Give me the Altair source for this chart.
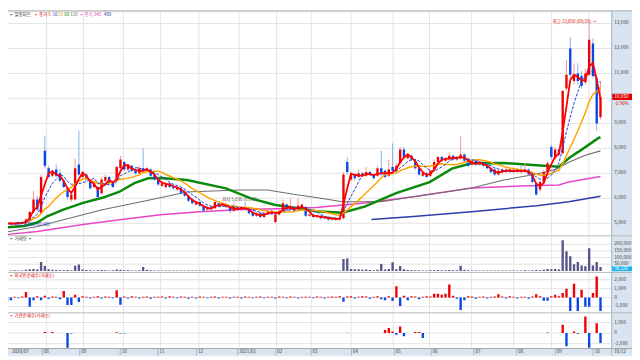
import altair as alt
import pandas as pd

FONT = "Noto Sans CJK KR"
W = 632          # whole chart width (page is 640 with 8px margin)
PW = 611         # price/indicator plot width, right of it is the axis strip
H_MAIN, H_VOL, H_P2, H_P3, H_X = 228, 37, 41, 36, 9

# ---------------- daily candles ----------------
OPEN = [5050, 4980, 5020, 4960, 5050, 5000, 5150, 5450, 5950, 5400,
        7900, 7200, 6900, 7150, 7000, 6700, 6400, 5950, 5950, 7350,
        6850, 6950, 6700, 6450, 6450, 6200, 6700, 6850, 6650, 6700,
        7200, 7450, 7150, 7300, 7150, 7000, 7200, 7100, 7150, 6950,
        6800, 6500, 6450, 6600, 6450, 6350, 6400, 6250, 6100, 5950,
        5750, 5850, 5700, 5550, 5650, 5600, 5800, 5700, 5750, 5650,
        5500, 5650, 5550, 5650, 5600, 5450, 5300, 5400, 5250, 5400,
        5500, 5050, 5350, 5500, 5750, 5550, 5650, 5550, 5650, 5650,
        5300, 5350, 5250, 5300, 5200, 5250, 5150, 5200, 5150, 5200,
        7450, 6750, 6950, 6850, 7000, 6900, 7050, 6950, 6900, 7200,
        7100, 6900, 7250, 7100, 7400, 7950, 7600, 7700, 7500, 7200,
        6900, 7000, 6900, 7150, 7450, 7650, 7500, 7550, 7700, 7550,
        7600, 7750, 7550, 7350, 7500, 7350, 7450, 7350, 7200, 7150,
        6950, 7050, 7150, 7050, 7150, 7050, 7150, 7050, 7150, 6950,
        6600, 6350, 6650, 7050, 8050, 7600, 7950, 7800, 10400, 12000,
        10700, 11000, 10900, 10650, 10950, 12200, 10800, 9250]
CLOSE = [4980, 5020, 4960, 5050, 5000, 5150, 5450, 5950, 5550, 6850,
         7300, 6850, 7100, 6900, 6700, 6450, 6050, 6150, 7200, 6950,
         6950, 6750, 6400, 6600, 6050, 6750, 6850, 6600, 6450, 7250,
         7550, 7150, 7300, 7100, 7000, 7200, 7100, 7200, 6900, 6750,
         6550, 6600, 6600, 6450, 6400, 6450, 6200, 6100, 5900, 5800,
         5850, 5700, 5500, 5650, 5600, 5850, 5700, 5750, 5650, 5500,
         5650, 5550, 5650, 5600, 5400, 5300, 5400, 5250, 5400, 5500,
         5400, 5350, 5500, 5800, 5550, 5650, 5500, 5700, 5750, 5300,
         5350, 5250, 5300, 5200, 5250, 5150, 5200, 5150, 5200, 6950,
         7050, 6950, 6800, 7000, 6900, 7050, 6950, 6800, 7200, 7000,
         6850, 7150, 7100, 7300, 7950, 7650, 7700, 7550, 7200, 6950,
         7000, 6850, 7100, 7450, 7650, 7500, 7600, 7700, 7550, 7650,
         7750, 7500, 7300, 7500, 7350, 7450, 7300, 7200, 7050, 6950,
         7100, 7150, 7050, 7150, 7050, 7150, 7050, 7150, 6950, 6650,
         6150, 6650, 7050, 7400, 7650, 7950, 7750, 10300, 10950, 10950,
         10950, 10700, 10500, 11000, 12350, 10900, 9000, 10050]
HIGH = [5100, 5060, 5050, 5080, 5100, 5200, 5500, 6300, 6100, 6950,
        8500, 7300, 7150, 7350, 7150, 6750, 6450, 6250, 7600, 8700,
        7000, 7000, 6750, 6650, 6500, 6850, 6950, 6900, 6700, 7300,
        7700, 7500, 7350, 7350, 7250, 7300, 8000, 7250, 7200, 7000,
        6850, 6650, 6650, 6650, 6550, 6500, 6450, 6350, 6150, 6000,
        5900, 5900, 5750, 5700, 5700, 5900, 5850, 5800, 5800, 5700,
        5800, 5700, 5700, 5850, 5650, 5500, 5450, 5450, 5450, 5550,
        5550, 5400, 5550, 5950, 5800, 6000, 5700, 6000, 5800, 5700,
        5400, 5400, 5350, 5350, 5300, 5300, 5250, 5250, 5250, 7050,
        7650, 7050, 7000, 7150, 7050, 7250, 7100, 7000, 7300, 7900,
        7150, 7550, 8200, 7400, 8050, 8050, 7750, 7750, 7550, 7250,
        7050, 7050, 7150, 7550, 7700, 7700, 7650, 7850, 7750, 7700,
        8500, 7800, 7600, 7550, 7550, 7500, 7500, 7400, 7250, 7200,
        7150, 7200, 7200, 7200, 7200, 7200, 7300, 7400, 7200, 7000,
        6650, 6700, 7150, 7500, 8150, 8050, 8000, 10350, 11550, 12450,
        11400, 11400, 11100, 11200, 13050, 12400, 10900, 10700]
LOW = [4930, 4950, 4900, 4940, 4970, 4990, 5120, 5400, 5500, 5350,
       7200, 6800, 6850, 6850, 6650, 6400, 5950, 5850, 5900, 6900,
       6750, 6700, 6350, 6400, 6000, 6150, 6650, 6550, 6400, 6650,
       7150, 7100, 7100, 7050, 6950, 6950, 7050, 7050, 6850, 6700,
       6500, 6450, 6400, 6400, 6350, 6300, 6150, 6050, 5850, 5750,
       5700, 5650, 5450, 5500, 5550, 5580, 5650, 5650, 5600, 5400,
       5450, 5500, 5500, 5550, 5350, 5250, 5250, 5200, 5200, 5350,
       5350, 5000, 5300, 5450, 5500, 5500, 5450, 5500, 5600, 5250,
       5250, 5200, 5200, 5150, 5150, 5100, 5100, 5100, 5100, 5150,
       6950, 6700, 6700, 6800, 6850, 6850, 6900, 6750, 6850, 6900,
       6800, 6850, 7050, 7050, 7350, 7550, 7550, 7500, 7150, 6900,
       6850, 6800, 6850, 7100, 7400, 7450, 7450, 7500, 7500, 7500,
       7550, 7450, 7250, 7300, 7300, 7300, 7250, 7150, 7000, 6900,
       6900, 7000, 7000, 7000, 7000, 7000, 7000, 7000, 6900, 6600,
       6100, 6250, 6600, 7000, 7550, 7550, 7650, 7750, 10300, 10800,
       10550, 10550, 10400, 10550, 10900, 10800, 8700, 9150]
VOLUME = [3000, 2500, 4000, 2000, 3500, 8000, 12000, 15000, 10000, 67000,
          37000, 12000, 8000, 6000, 5000, 4000, 6000, 5000, 39000, 47000,
          10000, 6000, 4000, 3000, 5000, 6000, 4000, 3000, 4000, 10000,
          8000, 5000, 4000, 3000, 3000, 4000, 30000, 8000, 4000, 3000,
          3000, 2500, 2000, 3000, 2500, 2000, 3000, 2500, 2000, 3000,
          2000, 2500, 3000, 2000, 2500, 3000, 2000, 2500, 2000, 3000,
          2500, 2000, 3000, 2500, 2000, 2500, 2000, 3000, 2500, 2000,
          2500, 3000, 2500, 3000, 2500, 3000, 2000, 3000, 2500, 2500,
          2000, 2500, 2000, 2500, 2000, 2500, 2000, 2500, 3000, 89000,
          92000, 15000, 12000, 12000, 8000, 10000, 6000, 5000, 8000, 52000,
          10000, 15000, 64000, 12000, 37000, 12000, 6000, 5000, 4000, 4000,
          3000, 3000, 4000, 5000, 6000, 4000, 4000, 6000, 4000, 5000,
          39000, 8000, 4000, 3000, 3000, 2500, 3000, 2500, 3000, 2500,
          3000, 2500, 3000, 2500, 3000, 3000, 2500, 4000, 3000, 4000,
          6000, 5000, 8000, 15000, 12000, 15000, 10000, 230000, 148000, 110000,
          50000, 67000, 40000, 35000, 170000, 40000, 67000, 30000]
FOREIGN = [-450, -300, 100, -80, 120, 630, -1040, -300, 150, -300,
           200, -150, 120, 100, -200, 740, -850, -850, 300, -500,
           150, 100, -120, 80, 150, -100, 120, 100, -80, 810,
           -800, 120, -100, 150, 80, -120, 100, 120, -150, 100,
           80, 120, -100, 150, 100, -80, 120, 100, -150, 80,
           -100, 120, 80, -80, 100, 120, -100, 80, 100, -120,
           100, 80, -100, 120, 80, -80, 100, 120, -80, 100,
           80, -100, 120, 100, -80, 120, 80, -100, 100, 80,
           100, -80, 120, 80, -100, 100, 120, 80, 150, -480,
           120, 150, -100, 100, 150, 120, -150, 100, 150, -200,
           -300, 150, -400, 1260, -950, 200, -300, 150, 120, -200,
           100, 150, 120, 440, 440, 300, 440, 1480, 200, -150,
           -1400, -300, 150, 120, -150, 100, 120, -100, 80, 120,
           370, 120, -100, 150, 100, -120, 100, 80, -150, 120,
           370, 150, -370, -370, 150, 300, 150, 520, 1000, -1520,
           1550, -1520, 890, -1040, -1040, 520, 2370, -1520]
INST_IDX = [10, 12, 16, 17, 29, 30, 31, 90, 100, 101, 102, 103, 104, 105,
            108, 109, 110, 143, 147, 148, 150, 151, 153, 154, 156, 157]
INST_VAL = [100, 100, -1390, -50, 80, -50, -50, 30, 300, 470, 150, -150, 620, -300,
            100, 100, -470, 60, 780, -1250, 150, -60, 1560, -1390, 940, -940]

# ---------------- long moving averages ----------------
GREEN_I = [-0.5, 4.6, 8, 10.6, 14.9, 20.1, 25.2, 29.6, 33.7, 37.3, 40.6, 47.6, 57.9, 64.5,
           70.7, 76.6, 81.8, 88.7, 94.6, 103.1, 111.8, 117.7, 122.9, 131.4, 140.1, 146,
           148.6, 153, 156.3, 157]
GREEN_P = [4830, 4890, 5030, 5280, 5545, 5820, 6020, 6255, 6610, 6800, 6810, 6730, 6400, 6000,
           5745, 5610, 5480, 5425, 5665, 6215, 6650, 7190, 7400, 7415, 7325, 7260,
           7600, 8050, 8400, 8450]
GRAY_I = [-0.5, 8, 25.2, 38, 47.6, 61.2, 68.9, 76.6, 81.8, 88.7, 99, 107.5, 116, 122.9,
          131.4, 140.1, 145.3, 148.6, 153, 157]
GRAY_P = [4640, 4870, 5545, 5940, 6250, 6335, 6335, 6140, 6030, 5860, 5860, 6060, 6255, 6415,
          6730, 6970, 7165, 7440, 7720, 7900]
MAG_I = [-0.5, 8, 20.1, 30.35, 40.6, 50.9, 61.2, 71.5, 81.8, 94.6, 107.5, 122.9, 135.7, 146,
         148.6, 157]
MAG_P = [4545, 4675, 4950, 5150, 5345, 5465, 5545, 5585, 5630, 5815, 6065, 6410, 6495, 6535,
         6650, 6870]
NAVY_I = [96.4, 107.5, 122.9, 140.1, 148.6, 157]
NAVY_P = [5150, 5270, 5465, 5705, 5860, 6080]

# ---------------- axis texts ----------------
MONTH_I = [2.2, 10.48, 20.24, 30.78, 40.63, 50.73, 61.38, 71.3, 80.48, 91.01, 102.15,
           111.76, 122.89, 134.03, 144.05, 153.92]
MONTH_LBL = ["2020/07", "08", "09", "10", "11", "12", "2021/01", "02", "03", "04", "05",
             "06", "07", "08", "09", "10"]
PRICE_TICKS = [13000, 12000, 11000, 9000, 8000, 7000, 6000, 5000]
PRICE_GRID = [13000, 12000, 11000, 10000, 9000, 8000, 7000, 6000, 5000]
VOL_TICKS = [200000, 150000, 100000, 50000]
P2_TICKS = [2000, 1000, 0, -1000]
P3_TICKS = [1000, 0, -1000]

RED, BLUE = "#f00000", "#0a46e6"
AXBG, AXLINE, GRID = "#d9e4f1", "#9fb4cc", "#e4e4e4"

df = pd.DataFrame({"idx": range(len(OPEN)), "open": OPEN, "close": CLOSE,
                   "high": HIGH, "low": LOW, "vol": VOLUME, "frg": FOREIGN})
df["bc"] = [RED if c >= o else BLUE for o, c in zip(OPEN, CLOSE)]
df["wc"] = ["#f29a9a" if c >= o else "#86aef0" for o, c in zip(OPEN, CLOSE)]
df["fc"] = [RED if v >= 0 else BLUE for v in FOREIGN]
df["zero"] = 0
inst = pd.DataFrame({"idx": INST_IDX, "v": INST_VAL, "zero": 0,
                     "c": [RED if v >= 0 else BLUE for v in INST_VAL]})
months = pd.DataFrame({"mi": MONTH_I, "lbl": MONTH_LBL})
ONE = pd.DataFrame({"a": [0]})

xs = alt.Scale(domain=[1.555, 164.03], nice=False, zero=False)
X = alt.X("idx:Q", scale=xs, axis=None)


def sc(d):
    return alt.Scale(domain=d, nice=False, zero=False)


def line_df(i, p):
    return pd.DataFrame({"idx": i, "p": p})


def label(text, x, y, color="#333333", size=4.5, align="left", weight="normal"):
    return alt.Chart(ONE).mark_text(text=text, font=FONT, fontSize=size, color=color,
                                    align=align, baseline="middle", fontWeight=weight,
                                    clip=True).encode(x=alt.value(x), y=alt.value(y))


def rect(color, x, x2, y, y2):
    return alt.Chart(ONE).mark_rect(color=color, clip=True).encode(
        x=alt.value(x), x2=alt.value(x2), y=alt.value(y), y2=alt.value(y2))


def frame_layers(h, ys, grid_vals, tick_vals, tick_fmt):
    g = pd.DataFrame({"v": grid_vals})
    t = pd.DataFrame({"v": tick_vals, "lbl": [tick_fmt(v) for v in tick_vals]})
    hgrid = alt.Chart(g).mark_rule(color=GRID, strokeWidth=1, clip=True).encode(
        y=alt.Y("v:Q", scale=ys, axis=None), x=alt.value(0), x2=alt.value(PW))
    vgrid = alt.Chart(months[months.mi > 5]).mark_rule(color=GRID, strokeWidth=1, clip=True).encode(
        x=alt.X("mi:Q", scale=xs, axis=None), y=alt.value(0.5), y2=alt.value(h - 0.5))
    axbg = rect(AXBG, PW, W, 0, h)
    axln = rect(AXLINE, PW, PW + 1, 0, h)
    top = rect("#a9a9a9", 0, W, 0, 1)
    ticks = alt.Chart(t).mark_text(font=FONT, fontSize=4.8, color="#3a3a3a", align="left",
                                   baseline="middle", clip=True).encode(
        y=alt.Y("v:Q", scale=ys, axis=None), x=alt.value(PW + 3), text="lbl:N")
    return [hgrid, vgrid], [axbg, axln, top, ticks]


def fmt(v):
    return f"{v:,.0f}"


# ---------------- main price panel ----------------
ys_main = sc([4518, 13530])
Yp = lambda f: alt.Y(f, scale=ys_main, axis=None)
back, front = frame_layers(H_MAIN, ys_main, PRICE_GRID, PRICE_TICKS, fmt)
toolbar = rect("#e6e6e6", 0, W, 0, 2)


def ma_line(i, p, color, width):
    return alt.Chart(line_df(i, p)).mark_line(color=color, strokeWidth=width, clip=True).encode(
        x=X, y=Yp("p:Q"))


def ma_window(n, color, width, dash=None):
    kw = dict(color=color, strokeWidth=width, clip=True)
    if dash:
        kw["strokeDash"] = dash
    return alt.Chart(df).transform_window(
        ma="mean(close)", frame=[-n, 0], sort=[alt.SortField("idx")]
    ).mark_line(**kw).encode(x=X, y=Yp("ma:Q"))


wicks = alt.Chart(df).mark_rule(strokeWidth=1, clip=True).encode(
    x=X, y=Yp("low:Q"), y2="high:Q", color=alt.Color("wc:N", scale=None))
bodies = alt.Chart(df).mark_bar(size=2.4, clip=True).encode(
    x=X, y=Yp("open:Q"), y2="close:Q", color=alt.Color("bc:N", scale=None))

title_parts = [
    label("▪ 일봉차트", 1, 5, "#222222"),
    label("▪ 종가 5", 26, 5, "#e00000"),
    label("10", 45, 5, "#1e3cd2"),
    label("20", 51, 5, "#f0a000"),
    label("60", 57, 5, "#008000"),
    label("120", 63, 5, "#707070"),
    label("▪ 종가 240", 72, 5, "#e040c0"),
    label("480", 97, 5, "#1f3ea0"),
]
annos = [
    label("최고 13,050 (09/29) →", 596, 12, "#e00000", align="right"),
    label("▪ 최저 4,880 (07/08)", 1, 218, "#1f3ec8"),
    label("최저 5,030 (03/02)", 217, 192, "#555555"),
]
cur_box = rect("#e00000", PW + 1, W, 84.5, 91)
cur_txt = label("10,050", PW + 3, 88, "white", size=4.8)
cur_pct = label("-2.90%", PW + 3, 94.5, "#e00000", size=4.5)

main = alt.layer(
    *back, toolbar,
    ma_line(MAG_I, MAG_P, "#e846c8", 1.5),
    ma_line(NAVY_I, NAVY_P, "#2a3fa8", 1.5),
    ma_line(GRAY_I, GRAY_P, "#6e6e6e", 1.1),
    ma_line(GREEN_I, GREEN_P, "#0a8a0a", 2.5),
    wicks, bodies,
    ma_window(11, "#ffa500", 1.5),
    ma_window(5, "#1e3cd2", 1, [3, 1.5]),
    ma_window(2, "#ff0000", 1.8),
    *title_parts, *annos,
    *front, cur_box, cur_txt, cur_pct,
).properties(width=W, height=H_MAIN)

# ---------------- volume panel ----------------
ys_vol = sc([-7400, 266700])
back, front = frame_layers(H_VOL, ys_vol, VOL_TICKS, VOL_TICKS, fmt)
vol_bars = alt.Chart(df).mark_bar(size=2.4, color="#56568a", clip=True).encode(
    x=X, y=alt.Y("vol:Q", scale=ys_vol, axis=None), y2="zero:Q")
vol = alt.layer(
    *back, vol_bars, label("▪ 거래량 ▪", 1, 4, "#333333"),
    *front, rect("#18b4f0", PW + 1, W, 31.5, 36.5),
    label("30,120", PW + 3, 34, "white", size=4.5),
).properties(width=W, height=H_VOL)

# ---------------- foreign net buying ----------------
ys_p2 = sc([-1667, 2889])
back, front = frame_layers(H_P2, ys_p2, P2_TICKS, P2_TICKS, fmt)
p2_bars = alt.Chart(df).mark_bar(size=2.4, clip=True).encode(
    x=X, y=alt.Y("frg:Q", scale=ys_p2, axis=None), y2="zero:Q",
    color=alt.Color("fc:N", scale=None))
p2 = alt.layer(
    *back, p2_bars, label("▪ 외국인순매수(거래소)", 1, 4.5, "#e00000"), *front,
).properties(width=W, height=H_P2)

# ---------------- institution net buying ----------------
ys_p3 = sc([-1402, 1963])
back, front = frame_layers(H_P3, ys_p3, P3_TICKS, P3_TICKS, fmt)
p3_bars = alt.Chart(inst).mark_bar(size=2.4, clip=True).encode(
    x=X, y=alt.Y("v:Q", scale=ys_p3, axis=None), y2="zero:Q",
    color=alt.Color("c:N", scale=None))
p3 = alt.layer(
    *back, p3_bars, label("▪ 기관순매수(거래소)", 1, 4, "#e00000"), *front,
).properties(width=W, height=H_P3)

# ---------------- date strip ----------------
mticks = alt.Chart(months[months.mi > 5]).mark_rule(color=AXLINE, clip=True).encode(
    x=alt.X("mi:Q", scale=xs, axis=None), y=alt.value(0.5), y2=alt.value(7.5))
mlabels = alt.Chart(months).mark_text(font=FONT, fontSize=4.6, color="#3a3a3a", align="left",
                                      baseline="middle", dx=1.5, clip=True).encode(
    x=alt.X("mi:Q", scale=xs, axis=None), y=alt.value(4), text="lbl:N")
xstrip = alt.layer(
    rect(AXBG, 0, W, 0, 8), rect("#f0f0f0", 0, W, 8, H_X), rect("#a9a9a9", 0, W, 0, 1),
    rect(AXLINE, PW, PW + 1, 0, 8), mticks, mlabels,
    label("10/12", PW + 3, 4, "#3a3a3a", size=4.6),
).properties(width=W, height=H_X)

chart = alt.vconcat(main, vol, p2, p3, xstrip, spacing=0).properties(
    padding={"left": 0, "top": 0, "right": 0, "bottom": 0}, background="white"
).configure_view(stroke=None)

chart.save("out.html", embed_options={"renderer": "svg", "actions": False})
